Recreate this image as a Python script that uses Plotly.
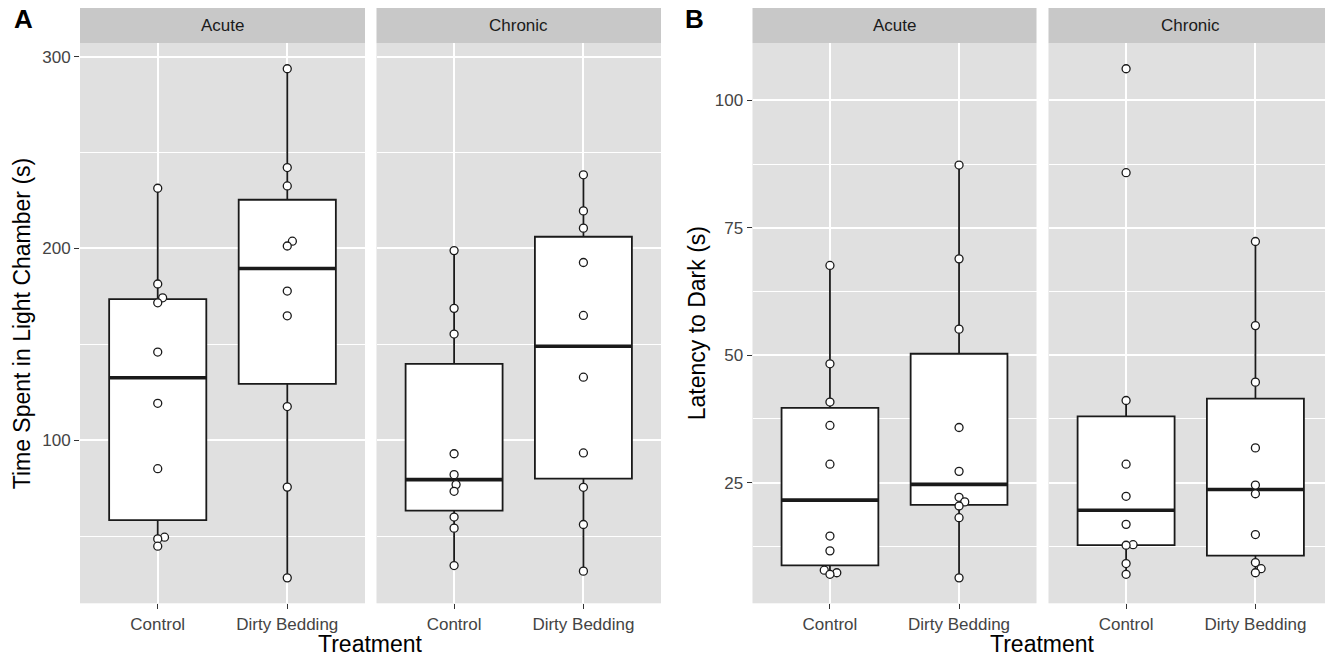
import math
import numpy as np
import plotly.graph_objects as go

# ---------------- data ----------------
conditions = ["Acute", "Chronic"]
treatments = ["Control", "Dirty Bedding"]

time_acute_control = [231.4, 181.5, 174.3, 171.7, 146.0, 119.3, 85.2, 49.5, 48.6, 44.8]
time_acute_dirty = [293.7, 242.2, 232.6, 203.8, 201.3, 177.8, 164.9, 117.6, 75.6, 28.3]
time_chronic_control = [198.9, 168.8, 155.4, 93.0, 82.1, 76.9, 73.4, 60.0, 54.2, 34.7]
time_chronic_dirty = [238.4, 219.6, 210.6, 192.7, 165.1, 132.9, 93.4, 75.5, 56.1, 31.8]

lat_acute_control = [67.6, 48.3, 40.8, 36.2, 28.6, 14.5, 11.6, 7.8, 7.3, 7.0]
lat_acute_dirty = [87.3, 68.9, 55.1, 35.8, 27.2, 22.1, 21.2, 20.4, 18.1, 6.3]
lat_chronic_control = [106.2, 85.8, 41.1, 28.6, 22.3, 16.8, 12.8, 12.7, 9.1, 7.0]
lat_chronic_dirty = [72.3, 55.8, 44.7, 31.8, 24.5, 22.8, 14.8, 9.3, 8.1, 7.3]

panel_letters = ["A", "B"]
y_titles = ["Time Spent in Light Chamber (s)", "Latency to Dark (s)"]
x_title = "Treatment"
y_dticks = [100, 25]

panels = [
    [[time_acute_control, time_acute_dirty], [time_chronic_control, time_chronic_dirty]],
    [[lat_acute_control, lat_acute_dirty], [lat_chronic_control, lat_chronic_dirty]],
]

# ---------------- layout constants (window pixels) ----------------
OFF = 8.0                      # page body margin of the html page
W, H = 1333 - OFF, 660 - OFF   # figure size
TOP, BOTTOM = 43.3 - OFF, 603.3 - OFF
STRIP_TOP = 8.0 - OFF
FACETS_PX = [[(80.0 - OFF, 365.0 - OFF), (376.5 - OFF, 661.0 - OFF)],
             [(752.5 - OFF, 1036.5 - OFF), (1048.5 - OFF, 1333.0 - OFF)]]
YTITLE_X = [22.0 - OFF, 697.0 - OFF]
LETTER_X = [12.0 - OFF, 683.0 - OFF]
XTITLE_Y = 644.0 - OFF
LETTER_Y = 19.0 - OFF

FONT = "Liberation Sans, Arial, Helvetica, sans-serif"
PANEL_BG = "#E0E0E0"
STRIP_BG = "#C8C8C8"
INK = "#1A1A1A"
TICK_TXT = "#444444"
BOX_W = 0.75
XRANGE = [0.4, 2.6]
DOT_D = 7.0


def stats(vals):
    v = np.array(vals, dtype=float)
    q1, med, q3 = np.percentile(v, [25, 50, 75])
    iqr = q3 - q1
    lo = v[v >= q1 - 1.5 * iqr].min()
    hi = v[v <= q3 + 1.5 * iqr].max()
    return q1, med, q3, lo, hi


def swarm(vals, px_per_y, d=DOT_D):
    v = np.array(vals, dtype=float)
    order = np.argsort(v, kind="stable")
    placed = []
    offs = np.zeros(len(v))
    for i in order:
        y = v[i] * px_per_y
        cands = [0.0]
        for (px, py) in placed:
            dy = abs(y - py)
            if dy < d:
                dx = math.sqrt(d * d - dy * dy)
                cands += [px + dx, px - dx]
        cands.sort(key=lambda c: (round(abs(c), 6), -c))
        chosen = cands[-1]
        for c in cands:
            if all((c - px) ** 2 + (y - py) ** 2 >= d * d - 1e-6 for px, py in placed):
                chosen = c
                break
        placed.append((chosen, y))
        offs[i] = chosen
    return offs


fig = go.Figure()
layout = dict()
annotations = []
shapes = []

ax = 0
for p, panel in enumerate(panels):
    allv = np.concatenate([np.array(s, float) for cond in panel for s in cond])
    vmin, vmax = allv.min(), allv.max()
    span = vmax - vmin
    yr = [vmin - 0.05 * span, vmax + 0.05 * span]
    px_per_y = (BOTTOM - TOP) / (yr[1] - yr[0])
    first_ax = None
    for c, cond in enumerate(panel):
        ax += 1
        xname = "x" if ax == 1 else f"x{ax}"
        yname = "y" if ax == 1 else f"y{ax}"
        x0px, x1px = FACETS_PX[p][c]
        px_per_x = (x1px - x0px) / (XRANGE[1] - XRANGE[0])
        dom_x = [max(x0px / W, 0.0), min(x1px / W, 1.0)]
        dom_y = [1 - BOTTOM / H, 1 - TOP / H]
        for t, vals in enumerate(cond):
            pos = t + 1
            q1, med, q3, lo, hi = stats(vals)
            fig.add_trace(go.Box(
                x=[pos], q1=[q1], median=[med], q3=[q3], lowerfence=[lo], upperfence=[hi],
                width=BOX_W, whiskerwidth=0, boxpoints=False, fillcolor="white",
                line=dict(color=INK, width=1.8), xaxis=xname, yaxis=yname,
                showlegend=False, hoverinfo="skip"))
            fig.add_trace(go.Scatter(
                x=[pos - BOX_W / 2, pos + BOX_W / 2], y=[med, med], mode="lines",
                line=dict(color=INK, width=3.6), xaxis=xname, yaxis=yname,
                showlegend=False, hoverinfo="skip"))
            offs = swarm(vals, px_per_y)
            fig.add_trace(go.Scatter(
                x=pos + offs / px_per_x, y=vals, mode="markers",
                marker=dict(size=8, color="white", line=dict(color=INK, width=1.3)),
                xaxis=xname, yaxis=yname, showlegend=False, hoverinfo="skip"))
        layout["xaxis" if ax == 1 else f"xaxis{ax}"] = dict(
            domain=dom_x, anchor=yname, range=XRANGE, tickmode="array", tickvals=[1, 2],
            ticktext=treatments, showgrid=True, gridcolor="white", gridwidth=1.8,
            zeroline=False, showline=False, ticks="outside", ticklen=5, tickwidth=1.4,
            tickcolor="#333333", tickfont=dict(family=FONT, size=17, color=TICK_TXT),
            fixedrange=True)
        yax = dict(
            domain=dom_y, anchor=xname, range=yr, tickmode="linear", tick0=0,
            dtick=y_dticks[p], showgrid=True, gridcolor="white", gridwidth=1.8,
            minor=dict(dtick=y_dticks[p] / 2, tick0=0, showgrid=True, gridcolor="white",
                       gridwidth=0.9, ticks=""),
            zeroline=False, showline=False, fixedrange=True,
            tickfont=dict(family=FONT, size=17, color=TICK_TXT))
        if c == 0:
            first_ax = yname
            yax.update(ticks="outside", ticklen=5, tickwidth=1.4, tickcolor="#333333",
                       showticklabels=True)
        else:
            yax.update(matches=first_ax, ticks="", showticklabels=False)
        layout["yaxis" if ax == 1 else f"yaxis{ax}"] = yax
        # strip
        shapes.append(dict(type="rect", xref="paper", yref="paper",
                           x0=dom_x[0], x1=dom_x[1], y0=1 - TOP / H, y1=1 - STRIP_TOP / H,
                           fillcolor=STRIP_BG, line=dict(width=0), layer="below"))
        annotations.append(dict(
            text=conditions[c], xref="paper", yref="paper",
            x=(dom_x[0] + dom_x[1]) / 2, y=1 - (TOP + STRIP_TOP) / 2 / H,
            xanchor="center", yanchor="middle", showarrow=False,
            font=dict(family=FONT, size=17, color=INK)))
    # axis titles and panel letter
    xa0 = FACETS_PX[p][0][0]
    xa1 = FACETS_PX[p][1][1]
    annotations.append(dict(
        text=x_title, xref="paper", yref="paper", x=(xa0 + xa1) / 2 / W, y=1 - XTITLE_Y / H,
        xanchor="center", yanchor="middle", showarrow=False,
        font=dict(family=FONT, size=23, color="black")))
    annotations.append(dict(
        text=y_titles[p], xref="paper", yref="paper", x=YTITLE_X[p] / W,
        y=1 - (TOP + BOTTOM) / 2 / H, textangle=-90,
        xanchor="center", yanchor="middle", showarrow=False,
        font=dict(family=FONT, size=23, color="black")))
    annotations.append(dict(
        text="<b>" + panel_letters[p] + "</b>", xref="paper", yref="paper",
        x=LETTER_X[p] / W, y=1 - LETTER_Y / H, xanchor="left", yanchor="middle",
        showarrow=False, font=dict(family=FONT, size=26, color="black")))

fig.update_layout(
    width=W, height=H, margin=dict(l=0, r=0, t=0, b=0, pad=0),
    paper_bgcolor="white", plot_bgcolor=PANEL_BG, showlegend=False,
    annotations=annotations, shapes=shapes, boxgap=0, boxgroupgap=0,
    font=dict(family=FONT), **layout)

fig.write_html("out.html", config={"displayModeBar": False})
